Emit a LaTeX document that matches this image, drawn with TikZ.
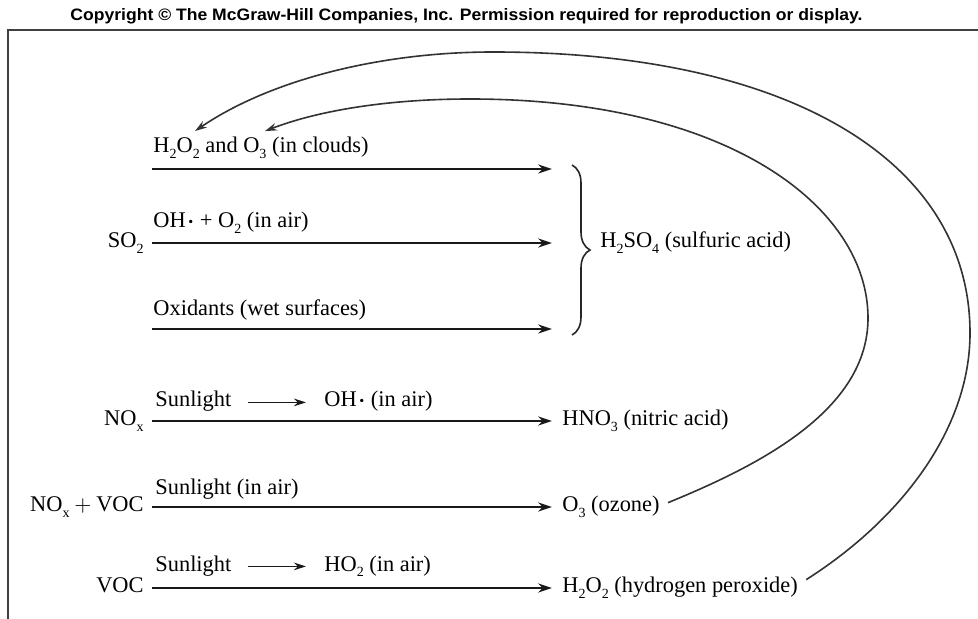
\documentclass[tikz,border=0pt]{standalone}
\usepackage{amsmath}
\usepackage{fontspec}
\setmainfont{Liberation Serif}
\setsansfont{Liberation Sans}
\usepackage{tikz}
\usetikzlibrary{calc,positioning,decorations.pathreplacing,arrows.meta}

\newcommand{\ix}[1]{\raisebox{-2.8pt}{\fontsize{7}{8}\selectfont #1}}
\newcommand{\rad}{\kern0.8pt$\boldsymbol{\cdot}$}

\tikzset{
  chem/.style={inner xsep=4pt, inner ysep=1pt},
  cond/.style={inner sep=0pt, anchor=base west},
  rxn/.style={-{Stealth[length=7pt,width=4.6pt]}, line width=1pt, draw=black!90},
  minirxn/.style={-{Stealth[length=6pt,width=3.8pt]}, line width=0.8pt, draw=black!90},
  feed/.style={-{Stealth[length=6pt,width=3.8pt]}, line width=0.8pt, draw=black!80},
  bracket/.style={decorate, decoration={brace, amplitude=9pt}, line width=0.8pt, draw=black!85},
  frame/.style={line width=1pt, draw=black!75}
}

\begin{document}
\begin{tikzpicture}[x=0.5pt, y=-0.5pt, font=\fontsize{11.2}{13}\selectfont]
\useasboundingbox (0,0) rectangle (978,619);
\fill[white] (0,0) rectangle (978,619);

% header and frame
\node[anchor=base, inner sep=0pt] (copy) at (466.5,21)
  {\resizebox{396pt}{6pt}{\sffamily\bfseries Copyright \textcopyright{} The McGraw-Hill Companies, Inc. Permission required for reproduction or display.}};
\draw[frame] (8,619) -- (8,30) -- (978,30);

% sulfur dioxide routes
\coordinate (in1) at (152,169);
\coordinate (out1) at (552,169);
\coordinate (out2) at (552,243);
\coordinate (in3) at (152,329);
\coordinate (out3) at (552,329);
\node[chem, anchor=mid east] (so2) at (152,243) {SO\ix{2}};
\node[cond] (clouds) at (153,153) {H\ix{2}O\ix{2} and O\ix{3} (in clouds)};
\node[cond] (air) at (153,228) {OH\rad{} + O\ix{2} (in air)};
\node[cond] (wet) at (153,316) {Oxidants (wet surfaces)};
\draw[rxn] (in1) -- (out1);
\draw[rxn] (so2.mid east) -- (out2);
\draw[rxn] (in3) -- (out3);

\coordinate (bt) at (572,165);
\coordinate (bb) at (572,335);
\draw[bracket] (bt) -- (bb);
\node[chem, anchor=mid west] (sulfuric) at (592,243) {H\ix{2}SO\ix{4} (sulfuric acid)};

% nitrogen oxides and organics
\node[chem, anchor=mid east] (nox) at (152,421) {NO\ix{x}};
\node[chem, anchor=mid east] (noxvoc) at (152,507) {NO\ix{x}${}+{}$VOC};
\node[chem, anchor=mid east] (voc) at (152,588) {VOC};

\node[chem, anchor=mid west] (hno3) at (554,421) {HNO\ix{3} (nitric acid)};
\node[chem, anchor=mid west] (ozone) at (554,507) {O\ix{3} (ozone)};
\node[chem, anchor=mid west] (peroxide) at (554,588) {H\ix{2}O\ix{2} (hydrogen peroxide)};

\node[cond] (sun4) at (155,407) {Sunlight};
\node[cond] (oh4) at (324,407) {OH\rad{} (in air)};
\node[cond] (sun5) at (155,494) {Sunlight (in air)};
\node[cond] (sun6) at (155,571) {Sunlight};
\node[cond] (ho2) at (324,571) {HO\ix{2} (in air)};

\draw[minirxn, shorten <=8pt, shorten >=9pt] (sun4.mid east) -- (oh4.mid west);
\draw[minirxn, shorten <=8pt, shorten >=9pt] (sun6.mid east) -- (ho2.mid west);

\draw[rxn, shorten >=1pt] (nox.mid east) -- (hno3.mid west);
\draw[rxn, shorten >=1pt] (noxvoc.mid east) -- (ozone.mid west);
\draw[rxn, shorten >=1pt] (voc.mid east) -- (peroxide.mid west);

% products fed back to the clouds
\coordinate (tipA) at ($(clouds.north west)+(42,-6)$);
\coordinate (tipB) at ($(clouds.north west)+(112,-6)$);
\draw[feed] ($(peroxide.east)+(0,-8)$) .. controls (900,520) and (970,430) .. (970,333)
  .. controls (970,163) and (793,52) .. (493,52)
  .. controls (380,52) and (270,80) .. (tipA);
\draw[feed] ($(ozone.east)+(0,-4)$) .. controls (760,465) and (868,410) .. (868,318)
  .. controls (868,208) and (730,99) .. (470,99)
  .. controls (390,99) and (320,110) .. (tipB);
\end{tikzpicture}
\end{document}
